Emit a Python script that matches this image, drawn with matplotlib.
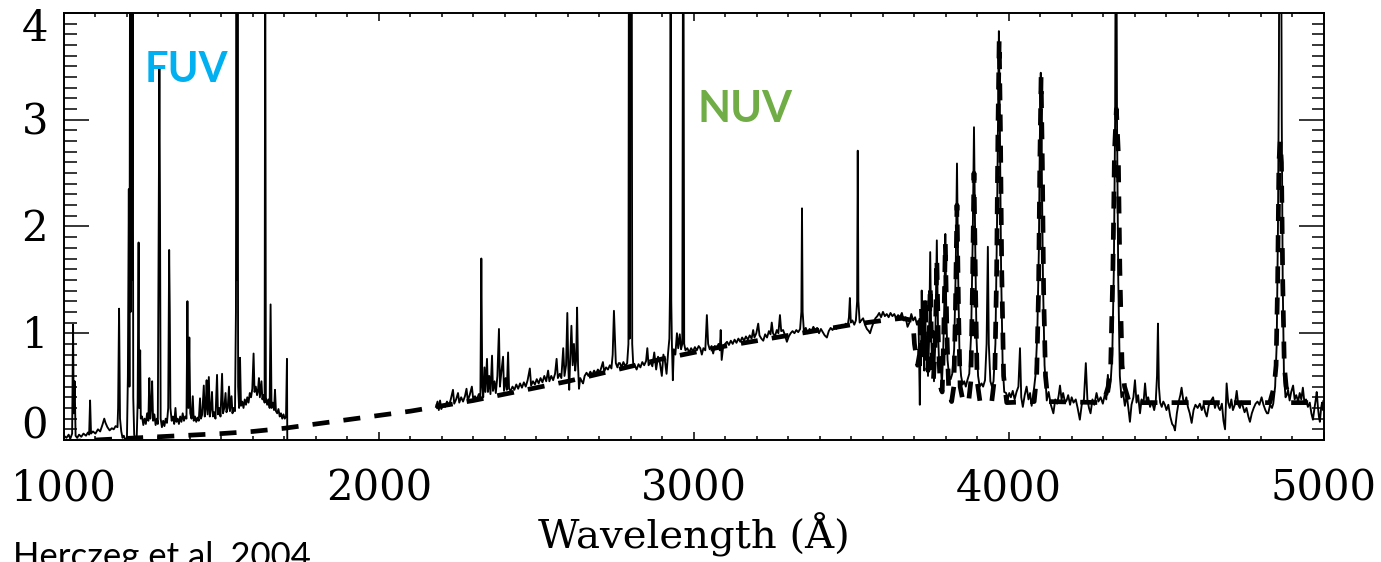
"""Spectre UV-optique avec modèle de continuum (tirets)"""

import matplotlib.pyplot as plt
import matplotlib.transforms as mtransforms
from matplotlib.ticker import MultipleLocator
import numpy as np

# %% Données (longueur d'onde en Å, flux)

fuv_points = [
    (1000, 0.04), (1008, 0.02), (1015, 0.05), (1020, 0.01), (1026, 0.06), (1029, 1.08),
    (1031, 0.25), (1034, 0.55), (1037, 0.04), (1042, 0.02), (1048, 0.05), (1055, 0.03),
    (1062, 0.06), (1070, 0.04), (1076, 0.07), (1080, 0.05), (1083, 0.37), (1086, 0.06),
    (1092, 0.08), (1100, 0.06), (1108, 0.10), (1115, 0.08), (1122, 0.14), (1128, 0.20),
    (1132, 0.16), (1138, 0.12), (1145, 0.09), (1152, 0.11), (1158, 0.10), (1164, 0.13),
    (1170, 0.12), (1172, 0.30), (1175, 1.23), (1178, 0.20), (1182, 0.08), (1186, 0.02),
    (1190, 0.04), (1195, 0.00), (1200, 0.02), (1203, 0.60), (1206, 2.35), (1208, 0.50),
    (1210, 5.00), (1212, 1.20), (1214, 5.00), (1216, 1.50), (1218, 5.00), (1220, 0.40),
    (1223, 0.05), (1227, 0.00), (1231, 0.02), (1234, 0.35), (1237, 1.85), (1239, 0.30),
    (1242, 0.84), (1244, 0.20), (1248, 0.22), (1252, 0.14), (1256, 0.20), (1260, 0.15),
    (1264, 0.25), (1268, 0.18), (1271, 0.58), (1274, 0.20), (1277, 0.30), (1280, 0.55),
    (1283, 0.18), (1287, 0.24), (1291, 0.14), (1295, 0.20), (1298, 0.15), (1301, 2.15),
    (1303, 3.48), (1305, 2.10), (1307, 0.20), (1311, 0.12), (1315, 0.18), (1319, 0.13),
    (1323, 0.20), (1327, 0.16), (1331, 0.30), (1334, 1.78), (1336, 1.20), (1338, 0.30),
    (1342, 0.18), (1346, 0.22), (1350, 0.15), (1354, 0.30), (1357, 0.17), (1361, 0.20),
    (1365, 0.15), (1369, 0.22), (1373, 0.17), (1377, 0.25), (1381, 0.18), (1385, 0.22),
    (1389, 0.20), (1392, 1.30), (1395, 0.30), (1398, 0.96), (1401, 0.25), (1405, 0.20),
    (1409, 0.41), (1412, 0.18), (1416, 0.22), (1420, 0.17), (1424, 0.21), (1428, 0.18),
    (1432, 0.39), (1435, 0.20), (1439, 0.24), (1444, 0.51), (1447, 0.22), (1450, 0.30),
    (1453, 0.56), (1456, 0.24), (1460, 0.59), (1463, 0.22), (1467, 0.30), (1470, 0.45),
    (1473, 0.22), (1477, 0.26), (1481, 0.20), (1486, 0.61), (1489, 0.24), (1493, 0.30),
    (1497, 0.22), (1502, 0.62), (1505, 0.25), (1509, 0.30), (1513, 0.44), (1516, 0.26),
    (1520, 0.30), (1524, 0.50), (1527, 0.27), (1532, 0.41), (1535, 0.25), (1539, 0.30),
    (1543, 0.27), (1546, 1.20), (1548, 5.00), (1549.5, 1.50), (1551, 5.00), (1553, 0.50),
    (1556, 0.30), (1559, 0.77), (1562, 0.32), (1566, 0.36), (1570, 0.30), (1574, 0.38),
    (1578, 0.33), (1582, 0.40), (1586, 0.35), (1590, 0.44), (1594, 0.40), (1598, 0.48),
    (1602, 0.81), (1605, 0.45), (1609, 0.50), (1613, 0.42), (1616, 0.46), (1619, 0.58),
    (1622, 0.40), (1627, 0.55), (1630, 0.38), (1634, 0.42), (1637, 0.35), (1639, 5.00),
    (1641, 0.40), (1645, 0.33), (1649, 0.38), (1653, 0.30), (1656, 1.27), (1659, 0.30),
    (1663, 0.35), (1667, 0.28), (1670, 0.47), (1673, 0.27), (1677, 0.25), (1681, 0.29),
    (1685, 0.22), (1689, 0.25), (1693, 0.20), (1697, 0.24), (1701, 0.20), (1705, 0.22),
    (1708, 0.76), (1709, 0.00),
]

nuv_points = [
    (2181, 0.31), (2186, 0.36), (2190, 0.28), (2194, 0.37), (2198, 0.29), (2204, 0.33),
    (2210, 0.31), (2216, 0.36), (2222, 0.32), (2228, 0.38), (2235, 0.47), (2239, 0.34),
    (2245, 0.38), (2251, 0.44), (2255, 0.35), (2261, 0.40), (2267, 0.36), (2273, 0.41),
    (2278, 0.48), (2282, 0.37), (2288, 0.42), (2295, 0.50), (2299, 0.39), (2305, 0.41),
    (2311, 0.38), (2317, 0.43), (2322, 0.40), (2325, 1.70), (2328, 0.50), (2331, 0.40),
    (2335, 0.68), (2338, 0.45), (2343, 0.76), (2346, 0.45), (2350, 0.60), (2354, 0.43),
    (2359, 0.79), (2362, 0.46), (2367, 0.55), (2371, 0.44), (2376, 0.60), (2381, 1.04),
    (2384, 0.50), (2388, 0.62), (2394, 0.78), (2397, 0.46), (2402, 0.58), (2406, 0.47),
    (2410, 0.82), (2413, 0.48), (2418, 0.46), (2424, 0.50), (2430, 0.47), (2436, 0.52),
    (2442, 0.48), (2448, 0.53), (2454, 0.49), (2460, 0.54), (2466, 0.50), (2472, 0.56),
    (2479, 0.67), (2483, 0.51), (2489, 0.55), (2495, 0.52), (2501, 0.57), (2507, 0.53),
    (2513, 0.58), (2519, 0.54), (2525, 0.60), (2531, 0.55), (2537, 0.65), (2541, 0.55),
    (2547, 0.60), (2553, 0.56), (2559, 0.62), (2564, 0.76), (2568, 0.58), (2574, 0.62),
    (2579, 0.58), (2585, 0.86), (2589, 0.60), (2594, 0.70), (2598, 1.19), (2601, 0.70),
    (2604, 0.47), (2607, 0.75), (2611, 1.07), (2615, 0.70), (2619, 0.90), (2623, 0.65),
    (2626, 0.75), (2629, 1.24), (2632, 0.70), (2635, 0.48), (2639, 0.58), (2644, 0.55),
    (2648, 0.53), (2653, 0.60), (2659, 0.63), (2665, 0.60), (2671, 0.64), (2677, 0.61),
    (2683, 0.65), (2689, 0.62), (2695, 0.66), (2701, 0.63), (2706, 0.68), (2711, 0.73),
    (2715, 0.64), (2721, 0.68), (2727, 0.66), (2733, 0.70), (2738, 0.67), (2742, 0.80),
    (2746, 1.21), (2749, 0.95), (2752, 0.72), (2757, 0.68), (2761, 0.72), (2765, 0.72),
    (2770, 0.68), (2776, 0.73), (2782, 0.69), (2788, 0.72), (2792, 0.90), (2794, 6.00),
    (2796, 0.95), (2798, 6.00), (2800, 3.46), (2802, 6.00), (2804, 0.90), (2807, 0.72),
    (2812, 0.70), (2818, 0.66), (2824, 0.71), (2830, 0.68), (2836, 0.73), (2842, 0.70),
    (2848, 0.74), (2852, 0.86), (2856, 0.70), (2862, 0.73), (2868, 0.69), (2874, 0.82),
    (2880, 0.66), (2886, 0.78), (2892, 0.72), (2898, 0.60), (2903, 0.80), (2908, 0.74),
    (2913, 0.62), (2918, 0.82), (2922, 0.95), (2924, 1.40), (2926, 6.00), (2928, 1.30),
    (2930, 0.90), (2933, 0.56), (2936, 0.85), (2941, 0.80), (2946, 1.00), (2950, 0.86),
    (2955, 0.99), (2959, 0.85), (2963, 0.90), (2966, 6.00), (2969, 0.90), (2973, 0.84),
    (2979, 0.86), (2985, 0.82), (2991, 0.86), (2997, 0.83), (3003, 0.87), (3009, 0.84),
    (3015, 0.88), (3020, 0.86), (3025, 0.80), (3030, 0.86), (3036, 0.84), (3041, 1.17),
    (3045, 0.90), (3050, 0.85), (3056, 0.88), (3061, 0.81), (3066, 0.88), (3072, 0.86),
    (3078, 0.90), (3082, 0.84), (3085, 1.03), (3088, 0.75), (3093, 0.88), (3099, 0.90),
    (3105, 0.92), (3111, 0.89), (3117, 0.93), (3123, 0.90), (3129, 0.94), (3135, 0.91),
    (3141, 0.95), (3147, 0.92), (3153, 0.96), (3159, 0.93), (3165, 0.97), (3171, 0.94),
    (3177, 0.98), (3183, 0.95), (3188, 1.03), (3192, 0.96), (3198, 1.00), (3204, 1.09),
    (3208, 0.98), (3214, 0.95), (3220, 0.93), (3226, 0.99), (3232, 0.96), (3238, 1.02),
    (3243, 0.99), (3247, 1.10), (3251, 1.00), (3257, 0.97), (3263, 1.03), (3268, 1.00),
    (3273, 1.17), (3277, 1.02), (3283, 1.03), (3289, 0.98), (3295, 0.92), (3301, 0.97),
    (3307, 1.00), (3313, 1.02), (3319, 1.00), (3325, 1.03), (3331, 1.01), (3337, 1.04),
    (3341, 1.20), (3343, 2.17), (3345, 1.20), (3349, 1.02), (3355, 1.05), (3361, 1.00),
    (3367, 1.04), (3373, 1.02), (3379, 1.06), (3385, 1.03), (3391, 1.05), (3397, 1.00),
    (3403, 1.04), (3409, 1.01), (3415, 0.98), (3422, 0.96), (3428, 1.02), (3434, 1.05),
    (3440, 1.03), (3446, 1.06), (3452, 1.04), (3458, 1.07), (3464, 1.05), (3470, 1.08),
    (3476, 1.06), (3482, 1.09), (3488, 1.07), (3492, 1.15), (3495, 1.33), (3498, 1.10),
    (3503, 1.12), (3509, 1.08), (3514, 1.12), (3518, 1.30), (3520, 2.71), (3522, 1.30),
    (3526, 1.10), (3531, 1.12), (3537, 1.14), (3543, 1.08), (3549, 1.04), (3555, 1.02),
    (3559, 1.00), (3564, 1.05), (3570, 1.10), (3576, 1.14), (3582, 1.16), (3588, 1.19),
    (3594, 1.15), (3600, 1.20), (3606, 1.16), (3612, 1.18), (3618, 1.15), (3624, 1.19),
    (3630, 1.16), (3636, 1.18), (3642, 1.14), (3648, 1.17), (3654, 1.15), (3660, 1.19),
    (3666, 1.12), (3672, 1.15), (3678, 1.06), (3684, 1.10), (3690, 1.18), (3696, 1.12),
    (3702, 1.15), (3708, 1.08), (3713, 1.12),
]

# série de Balmer et domaine optique
balmer_points = [
    (3717, 0.33), (3719, 0.90), (3721, 0.70), (3723, 1.40), (3726, 0.80), (3729, 1.10),
    (3731, 0.65), (3734, 1.30), (3737, 0.75), (3740, 0.95), (3743, 0.60), (3747, 1.00),
    (3750, 1.76), (3753, 1.00), (3756, 0.70), (3759, 0.90), (3762, 0.55), (3766, 0.90),
    (3771, 1.87), (3775, 1.00), (3779, 0.65), (3783, 0.75), (3787, 0.52), (3791, 0.80),
    (3795, 1.30), (3798, 1.93), (3801, 1.20), (3805, 0.75), (3810, 0.60), (3815, 0.57),
    (3820, 0.62), (3826, 0.85), (3831, 1.60), (3835, 2.59), (3839, 1.50), (3843, 0.80),
    (3848, 0.60), (3853, 0.52), (3858, 0.55), (3863, 0.50), (3868, 0.56), (3874, 0.62),
    (3880, 1.00), (3885, 1.90), (3889, 2.93), (3893, 1.80), (3897, 0.95), (3902, 0.60),
    (3907, 0.50), (3913, 0.53), (3918, 0.50), (3924, 0.56), (3929, 0.90), (3933, 1.81),
    (3936, 0.90), (3941, 0.55), (3946, 0.50), (3951, 0.55), (3957, 0.90), (3962, 2.00),
    (3966, 3.20), (3968, 3.83), (3971, 3.00), (3975, 1.60), (3980, 0.70), (3985, 0.45),
    (3991, 0.44), (3996, 0.38), (4001, 0.44), (4006, 0.40), (4012, 0.46), (4018, 0.38),
    (4024, 0.45), (4030, 0.50), (4035, 0.86), (4039, 0.40), (4044, 0.31), (4050, 0.42),
    (4056, 0.50), (4062, 0.38), (4067, 0.44), (4072, 0.32), (4078, 0.44), (4084, 0.60),
    (4090, 1.00), (4095, 1.80), (4098, 2.80), (4101, 3.44), (4104, 2.60), (4108, 1.50),
    (4113, 0.70), (4120, 0.37), (4126, 0.45), (4133, 0.33), (4141, 0.25), (4147, 0.38),
    (4153, 0.34), (4158, 0.42), (4162, 0.51), (4167, 0.38), (4172, 0.44), (4178, 0.35),
    (4183, 0.37), (4188, 0.42), (4194, 0.33), (4199, 0.40), (4205, 0.35), (4212, 0.38),
    (4218, 0.30), (4225, 0.19), (4231, 0.33), (4238, 0.38), (4244, 0.72), (4249, 0.38),
    (4254, 0.30), (4259, 0.25), (4265, 0.38), (4271, 0.33), (4278, 0.44), (4284, 0.36),
    (4291, 0.40), (4298, 0.34), (4304, 0.42), (4309, 0.38), (4314, 0.61), (4318, 0.45),
    (4323, 0.55), (4328, 0.80), (4333, 1.60), (4337, 3.00), (4340, 6.00), (4343, 3.00),
    (4347, 1.50), (4352, 0.60), (4357, 0.40), (4362, 0.45), (4368, 0.32), (4374, 0.42),
    (4379, 0.30), (4384, 0.17), (4389, 0.33), (4395, 0.40), (4400, 0.56), (4405, 0.35),
    (4410, 0.42), (4416, 0.25), (4421, 0.38), (4427, 0.34), (4432, 0.53), (4437, 0.36),
    (4442, 0.40), (4448, 0.31), (4454, 0.36), (4461, 0.28), (4466, 0.36), (4470, 0.60),
    (4473, 1.09), (4476, 0.50), (4480, 0.35), (4485, 0.31), (4490, 0.36), (4495, 0.33),
    (4500, 0.28), (4506, 0.33), (4512, 0.22), (4518, 0.15), (4523, 0.13), (4527, 0.09),
    (4533, 0.25), (4539, 0.36), (4544, 0.42), (4548, 0.49), (4553, 0.38), (4558, 0.34),
    (4563, 0.40), (4568, 0.31), (4574, 0.25), (4580, 0.16), (4586, 0.28), (4592, 0.33),
    (4599, 0.30), (4606, 0.34), (4612, 0.28), (4618, 0.33), (4623, 0.26), (4628, 0.22),
    (4634, 0.32), (4640, 0.36), (4648, 0.40), (4654, 0.30), (4660, 0.36), (4666, 0.30),
    (4670, 0.28), (4676, 0.34), (4681, 0.18), (4686, 0.10), (4691, 0.53), (4696, 0.35),
    (4701, 0.30), (4706, 0.38), (4711, 0.28), (4717, 0.33), (4723, 0.46), (4728, 0.33),
    (4733, 0.30), (4738, 0.36), (4743, 0.31), (4748, 0.26), (4754, 0.30), (4760, 0.22),
    (4765, 0.17), (4771, 0.25), (4777, 0.30), (4783, 0.34), (4789, 0.36), (4795, 0.33),
    (4802, 0.40), (4808, 0.33), (4814, 0.28), (4819, 0.25), (4823, 0.25), (4829, 0.33),
    (4835, 0.30), (4839, 0.34), (4845, 0.50), (4850, 0.90), (4854, 2.00), (4857, 3.50),
    (4859, 6.00), (4861, 4.00), (4863, 6.00), (4866, 3.00), (4869, 1.50), (4873, 0.60),
    (4878, 0.40), (4882, 0.42), (4886, 0.47), (4891, 0.37), (4896, 0.45), (4902, 0.51),
    (4907, 0.38), (4912, 0.42), (4918, 0.36), (4923, 0.44), (4928, 0.38), (4933, 0.49),
    (4938, 0.35), (4943, 0.38), (4949, 0.31), (4955, 0.35), (4960, 0.25), (4965, 0.19),
    (4970, 0.30), (4974, 0.38), (4977, 0.45), (4981, 0.30), (4984, 0.22), (4987, 0.17),
    (4991, 0.30), (4994, 0.35), (4997, 0.28), (5000, 0.30),
]

# modèle : continuum + raies de Balmer
model_points = [
    (1000, -0.02), (1100, 0.00), (1200, 0.015), (1300, 0.03), (1400, 0.045), (1500, 0.06),
    (1600, 0.08), (1700, 0.11), (1800, 0.15), (1900, 0.19), (2000, 0.23), (2100, 0.27),
    (2200, 0.32), (2300, 0.37), (2400, 0.43), (2500, 0.49), (2600, 0.55), (2700, 0.62),
    (2800, 0.69), (2900, 0.76), (3000, 0.82), (3100, 0.88), (3200, 0.93), (3300, 0.98),
    (3400, 1.03), (3500, 1.08), (3600, 1.12), (3660, 1.14), (3695, 1.12),
    (3700, 0.90), (3710, 0.70), (3716, 0.80), (3722, 1.25), (3727, 0.75), (3731, 0.90),
    (3734, 1.35), (3738, 0.85), (3743, 0.65), (3747, 1.00), (3750, 1.45), (3754, 0.95),
    (3760, 0.55), (3766, 0.90), (3771, 1.70), (3776, 0.90), (3782, 0.50), (3788, 0.45),
    (3793, 1.00), (3798, 1.85), (3803, 1.00), (3809, 0.45), (3818, 0.36), (3825, 0.50),
    (3830, 1.20), (3835, 2.20), (3840, 1.20), (3845, 0.50), (3855, 0.35), (3872, 0.36),
    (3879, 0.55), (3884, 1.40), (3889, 2.50), (3894, 1.40), (3899, 0.55), (3908, 0.36),
    (3945, 0.35), (3955, 0.60), (3961, 1.60), (3965, 2.90), (3969, 3.75), (3973, 2.90),
    (3977, 1.60), (3983, 0.60), (3993, 0.35), (4080, 0.36), (4088, 0.60), (4094, 1.40),
    (4098, 2.60), (4102, 3.40), (4106, 2.60), (4110, 1.40), (4116, 0.60), (4124, 0.36),
    (4300, 0.35), (4315, 0.50), (4323, 0.70), (4330, 1.60), (4335, 2.70), (4341, 3.10),
    (4347, 2.70), (4352, 1.60), (4359, 0.70), (4367, 0.50), (4382, 0.35), (4828, 0.35),
    (4842, 0.50), (4848, 0.70), (4853, 1.50), (4857, 2.60), (4861, 2.80), (4865, 2.60),
    (4869, 1.50), (4874, 0.70), (4880, 0.50), (4894, 0.35), (5000, 0.35),
]

yticks = [0, 1, 2, 3, 4]
ytick_labels = ['0', '1', '2', '3', '4']
xticks = [1000, 2000, 3000, 4000, 5000]

fuv_w, fuv_f = np.array(fuv_points).T
nuv_w, nuv_f = np.array(nuv_points + balmer_points).T
mod_w, mod_f = np.array(model_points).T

# %% Figure

fig = plt.figure(figsize=(13.81, 5.62), dpi=100)
ax = fig.add_axes([0.0463, 0.2171, 0.9124, 0.7598])

ax.plot(mod_w, mod_f, color='black', lw=3.4, ls=(0, (3.6, 3.0)))
ax.plot(fuv_w, fuv_f, color='black', lw=1.35)
ax.plot(nuv_w, nuv_f, color='black', lw=1.35)

ax.set(xlim=(1000, 5000), ylim=(0, 4))
for s in ax.spines.values():
    s.set_linewidth(1.4)

ax.set_xticks(xticks)
ax.xaxis.set_minor_locator(MultipleLocator(100))
ax.yaxis.set_major_locator(MultipleLocator(1))
ax.yaxis.set_minor_locator(MultipleLocator(0.1))
ax.tick_params(which='both', direction='in', top=True, right=True, width=1.1)
ax.tick_params(axis='x', which='major', length=6, pad=20, labelsize=30)
ax.tick_params(axis='x', which='minor', length=3)
ax.tick_params(axis='y', which='major', length=18, labelleft=False)
ax.tick_params(axis='y', which='minor', length=9)
for lab in ax.get_xticklabels():
    lab.set_family('DejaVu Serif')

# étiquettes de l'axe y, décalées comme sur le tracé IDL
dy = {0: -13, 1: 3, 2: 3, 3: 3, 4: 16}
for v, t in zip(yticks, ytick_labels):
    tr = mtransforms.offset_copy(ax.get_yaxis_transform(), fig=fig, x=-16, y=-dy[v], units='dots')
    ax.text(0, v, t, transform=tr, ha='right', va='center', fontsize=30, family='DejaVu Serif')

ax.set_xlabel('Wavelength (Å)', fontsize=29, family='DejaVu Serif')
ax.xaxis.set_label_coords(0.5, -0.17)

fig.text(145 / 1381, 1 - 82 / 562, 'FUV', color='#00B0F0', fontsize=30,
         family='Lato', weight='bold', va='baseline')
fig.text(697 / 1381, 1 - 122 / 562, 'NUV', color='#70AD47', fontsize=31,
         family='Lato', weight='bold', va='baseline')
fig.text(13 / 1381, 1 - 567 / 562, 'Herczeg et al. 2004', fontsize=25,
         family='Lato', va='baseline')

plt.savefig('out.png', dpi=100)
